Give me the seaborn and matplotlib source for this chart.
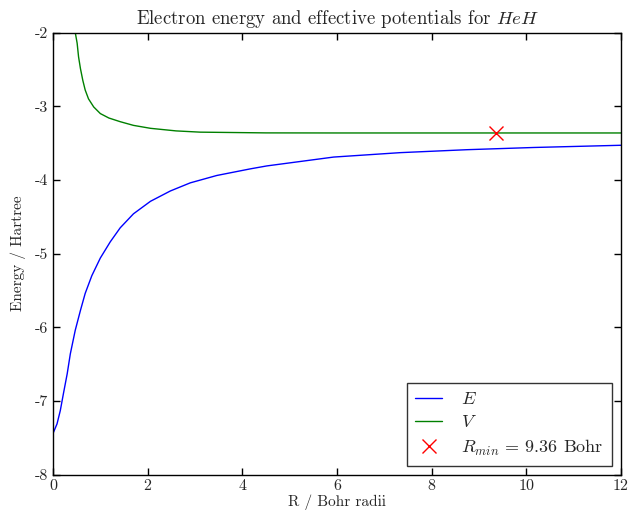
import matplotlib
matplotlib.use("Agg")
import matplotlib.pyplot as plt
import seaborn as sns
import pandas as pd

# values
R_E = [0.0, 0.085, 0.154, 0.22, 0.30, 0.366, 0.47, 0.58, 0.68, 0.82, 1.0, 1.21,
       1.42, 1.70, 2.06, 2.48, 2.90, 3.46, 4.17, 4.52, 5.93, 7.34, 8.75, 10.16, 12.0]
E = [-7.44, -7.31, -7.13, -6.90, -6.63, -6.36, -6.04, -5.77, -5.54, -5.30, -5.06, -4.84,
     -4.65, -4.46, -4.29, -4.15, -4.04, -3.94, -3.85, -3.81, -3.69, -3.63, -3.59, -3.56, -3.53]

R_V = [0.44, 0.47, 0.51, 0.54, 0.58, 0.63, 0.68, 0.75, 0.86, 1.0, 1.18, 1.42, 1.70,
       2.06, 2.6, 3.11, 4.5, 6.0, 8.0, 10.0, 12.0]
V = [-1.7, -2.0, -2.145, -2.33, -2.49, -2.65, -2.78, -2.90, -3.01, -3.10, -3.16, -3.21,
     -3.26, -3.30, -3.335, -3.352, -3.362, -3.363, -3.363, -3.363, -3.363]

R_min = [9.36]
V_min = [-3.363]

sns.set_style('white', {
    'xtick.direction': 'in', 'ytick.direction': 'in',
    'xtick.top': True, 'ytick.right': True,
    'xtick.bottom': True, 'ytick.left': True,
    'axes.edgecolor': 'black',
})
plt.rcParams['font.family'] = ['cmr10', 'DejaVu Serif']
plt.rcParams['mathtext.fontset'] = 'cm'
plt.rcParams['axes.unicode_minus'] = False
plt.rcParams['xtick.major.size'] = 5
plt.rcParams['ytick.major.size'] = 5

df_E = pd.DataFrame({'R': R_E, 'val': E})
df_V = pd.DataFrame({'R': R_V, 'val': V})

f, ax = plt.subplots(figsize=(6.31, 5.16), dpi=100)
f.subplots_adjust(left=0.084, right=0.984, top=0.937, bottom=0.08)

sns.lineplot(x='R', y='val', data=df_E, ax=ax, color='b', lw=1, label='$E$')
sns.lineplot(x='R', y='val', data=df_V, ax=ax, color='g', lw=1, label='$V$')
ax.plot(R_min, V_min, 'x', color='r', ms=10, mew=1,
        label='$R_{min}$ = %.2f Bohr' % R_min[0], linestyle='none')

ax.set_xlim(0, 12)
ax.set_ylim(-8, -2)
ax.set_xticks([0, 2, 4, 6, 8, 10, 12])
ax.set_yticks([-8, -7, -6, -5, -4, -3, -2])
ax.tick_params(labelsize=11.5, width=1, color='black')
for s in ax.spines.values():
    s.set_linewidth(1)

ax.set_title('Electron energy and effective potentials for $HeH$', fontsize=13.5)
ax.set_xlabel('R / Bohr radii', fontsize=11, labelpad=1)
ax.set_ylabel('Energy / Hartree', fontsize=11, labelpad=6)

leg = ax.legend(loc='lower right', fontsize=13, fancybox=False, frameon=True,
                numpoints=1, handlelength=1.5, handletextpad=1.05,
                borderpad=0.45, borderaxespad=0.5, labelspacing=0.4)
leg.get_frame().set_edgecolor('black')
leg.get_frame().set_linewidth(1)

f.savefig('out.png', dpi=100)
